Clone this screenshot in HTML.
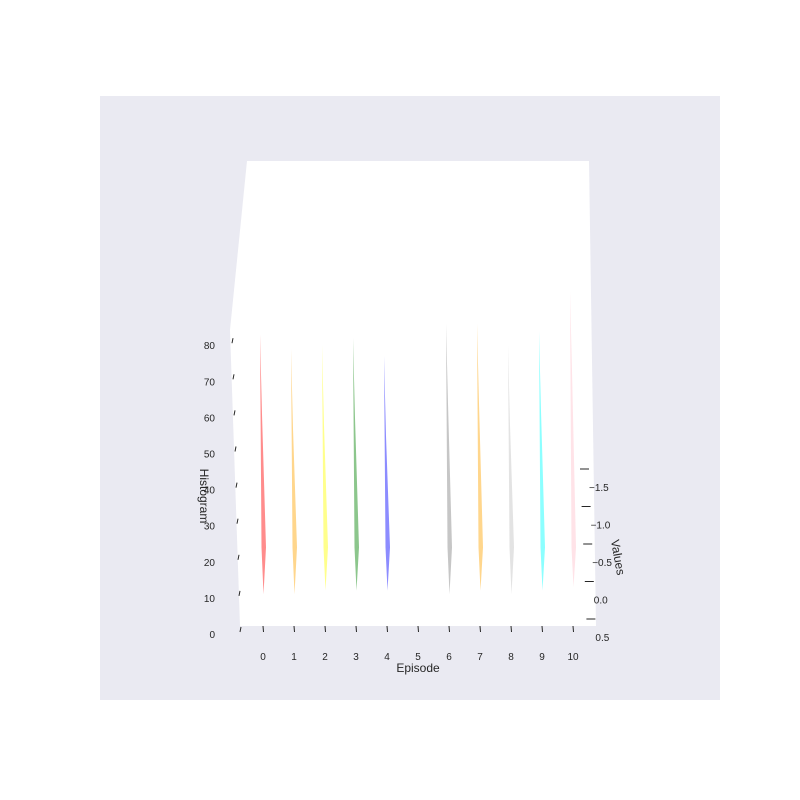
<!DOCTYPE html>
<html><head><meta charset="utf-8"><style>
body{margin:0;background:#fff}
svg{display:block;font-family:"Liberation Sans",sans-serif}
</style></head><body>
<svg id="chart" width="800" height="800" viewBox="0 0 800 800">
<rect x="0" y="0" width="800" height="800" fill="#fff"/>
<rect x="100" y="96" width="620" height="604" fill="#eaeaf2"/>
<polygon points="247,161 589,161 596,626 240,626 230,330" fill="#fff"/>
<g id="marks"></g>
<g id="axes"></g>
<text x="418" y="672" font-size="12" fill="#262626" text-anchor="middle">Episode</text>
<text x="0" y="0" font-size="12" fill="#262626" text-anchor="middle" transform="translate(200,496) rotate(90)">Histogram</text>
<text x="0" y="0" font-size="12" fill="#262626" text-anchor="middle" transform="translate(614,558) rotate(80)">Values</text>
</svg>
<script>
const episodes=[0,1,2,3,4,5,6,7,8,9,10];
const topValues=[83,79,80,82,77,0,86,86,80,84,95];
const bottomValues=[11,11,12,12,12,0,11,12,11,12,13];
const bulgeValues=[24,24,24,24,24,0,24,24,24,24,24];
const colors=["#ff0000","#ffa500","#ffff00","#008000","#0000ff","#800080","#808080","#ffa500","#c0c0c0","#00ffff","#ffc0cb"];
const histTicks=[0,10,20,30,40,50,60,70,80];
const valueTicks=["\u22121.5","\u22121.0","\u22120.5","0.0","0.5"];
const NS="http://www.w3.org/2000/svg";
function xScale(e){return 263+e*31;}
function yScale(h){return 634-h*3.61;}
const marks=document.getElementById('marks');
const axes=document.getElementById('axes');
episodes.forEach((e,i)=>{
  if(topValues[i]<=0)return;
  const x=xScale(e),yt=yScale(topValues[i]),yb=yScale(bottomValues[i]),ym=yScale(bulgeValues[i]);
  const p=document.createElementNS(NS,'polygon');
  p.setAttribute('points',`${x-3},${yt} ${x-1.5},${ym} ${x+0.5},${yb} ${x+3},${ym} ${x-1},${yt+80}`);
  p.setAttribute('fill',colors[i]);p.setAttribute('fill-opacity','0.45');
  
  
  marks.appendChild(p);
});
episodes.forEach(e=>{
  const x=xScale(e);
  const t=document.createElementNS(NS,'line');
  t.setAttribute('x1',x);t.setAttribute('x2',x+0.5);t.setAttribute('y1',626);t.setAttribute('y2',632);
  t.setAttribute('stroke','#262626');t.setAttribute('stroke-width','1');
  
  
  axes.appendChild(t);
  const l=document.createElementNS(NS,'text');
  l.setAttribute('x',x);l.setAttribute('y',660);l.setAttribute('font-size','10');l.setAttribute('fill','#262626');l.setAttribute('text-anchor','middle');
  l.textContent=e;
  
  
  axes.appendChild(l);
});
histTicks.forEach(h=>{
  const y=yScale(h);
  const xe=240-h/80*8;
  const t=document.createElementNS(NS,'line');
  t.setAttribute('x1',xe);t.setAttribute('x2',xe+1);t.setAttribute('y1',y-2);t.setAttribute('y2',y-7);
  t.setAttribute('stroke','#262626');t.setAttribute('stroke-width','1');
  
  
  axes.appendChild(t);
  const l=document.createElementNS(NS,'text');
  l.setAttribute('x',215);l.setAttribute('y',y+4);l.setAttribute('font-size','10');l.setAttribute('fill','#262626');l.setAttribute('text-anchor','end');
  l.textContent=h;
  
  
  axes.appendChild(l);
});
valueTicks.forEach((v,i)=>{
  const y=469+i*37.5, x=580+i*1.6;
  const t=document.createElementNS(NS,'line');
  t.setAttribute('x1',x);t.setAttribute('x2',x+9);t.setAttribute('y1',y);t.setAttribute('y2',y);
  t.setAttribute('stroke','#262626');t.setAttribute('stroke-width','1');
  
  
  axes.appendChild(t);
  const l=document.createElementNS(NS,'text');
  l.setAttribute('x',x+9);l.setAttribute('y',y+22);l.setAttribute('font-size','10');l.setAttribute('fill','#262626');
  l.textContent=v;
  
  
  axes.appendChild(l);
});
</script>
</body></html>
